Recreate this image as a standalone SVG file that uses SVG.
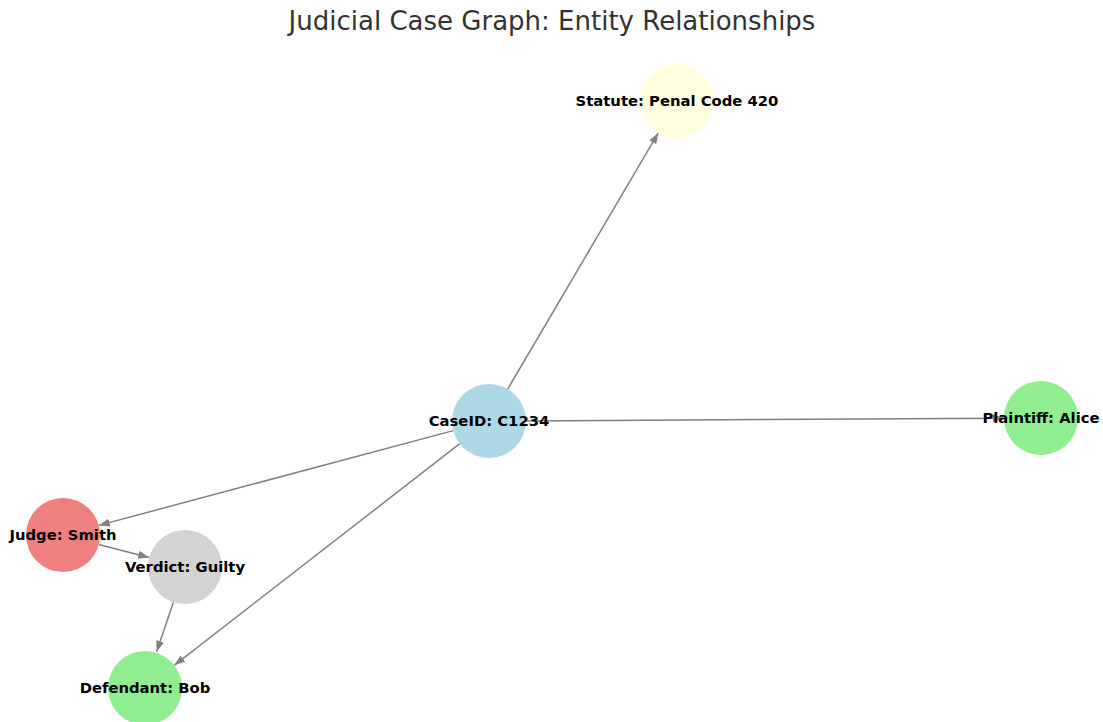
<svg xmlns="http://www.w3.org/2000/svg" width="1103" height="722" viewBox="0 0 1103 722">
<style>
.title{font-family:"DejaVu Sans",sans-serif;font-size:26px;fill:#333333;text-anchor:middle}
.lbl{font-family:"DejaVu Sans",sans-serif;font-size:14.8px;font-weight:bold;fill:#000;text-anchor:middle}
.edge{stroke:#808080;stroke-width:1.5;fill:none;marker-end:url(#ah)}
</style>
<defs>
<marker id="ah" viewBox="0 0 11 8" refX="11" refY="4" markerWidth="11" markerHeight="8" markerUnits="userSpaceOnUse" orient="auto">
<path d="M0,0 L11,4 L0,8 Z" fill="#808080"/>
</marker>
</defs>
<rect width="1103" height="722" fill="#ffffff"/>
<text class="title" x="552" y="30">Judicial Case Graph: Entity Relationships</text>
<g id="edges">
<line class="edge" x1="507.7" y1="389.1" x2="658.3" y2="132.9"/>
<line class="edge" x1="526" y1="421" x2="1004" y2="418.2"/>
<line class="edge" x1="453.3" y1="430.6" x2="98.7" y2="525.4"/>
<line class="edge" x1="459.8" y1="443.7" x2="174.2" y2="665.3"/>
<line class="edge" x1="98.8" y1="544.4" x2="149.2" y2="557.6"/>
<line class="edge" x1="173.4" y1="602.2" x2="156.6" y2="651.8"/>
</g>
<g id="caseid"><circle cx="489" cy="421" r="37" fill="#ADD8E6"/><text class="lbl" x="489" y="426">CaseID: C1234</text></g>
<g id="statute"><circle cx="677" cy="101" r="37" fill="#FFFFE0"/><text class="lbl" x="677" y="106">Statute: Penal Code 420</text></g>
<g id="plaintiff"><circle cx="1041" cy="418" r="37" fill="#90EE90"/><text class="lbl" x="1041" y="423">Plaintiff: Alice</text></g>
<g id="judge"><circle cx="63" cy="535" r="37" fill="#F08080"/><text class="lbl" x="63" y="540">Judge: Smith</text></g>
<g id="verdict"><circle cx="185" cy="567" r="37" fill="#D3D3D3"/><text class="lbl" x="185" y="572">Verdict: Guilty</text></g>
<g id="defendant"><circle cx="145" cy="688" r="37" fill="#90EE90"/><text class="lbl" x="145" y="693">Defendant: Bob</text></g>
</svg>
